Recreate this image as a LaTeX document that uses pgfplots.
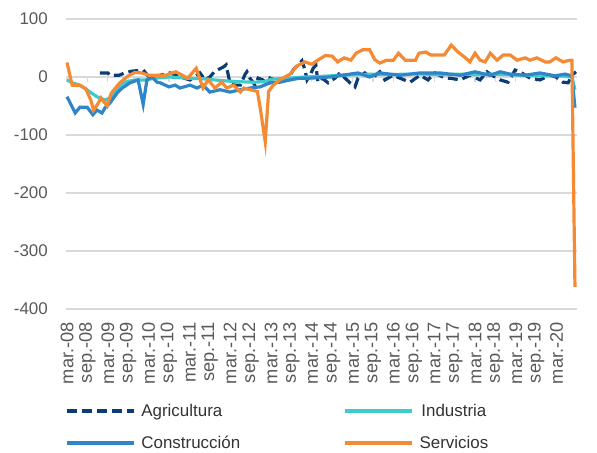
\documentclass[border=0pt]{standalone}
\usepackage{pgfplots}
\pgfplotsset{compat=1.18}
\usepackage{fontspec}
\setmainfont{Liberation Sans}
\definecolor{agri}{HTML}{0B3C74}
\definecolor{ind}{HTML}{3DCBCB}
\definecolor{cons}{HTML}{2E86C9}
\definecolor{serv}{HTML}{F58A35}
\definecolor{gridc}{HTML}{D9D9D9}
\definecolor{tickc}{HTML}{595959}
\definecolor{legc}{HTML}{333333}
\begin{document}
\begin{tikzpicture}
\path[use as bounding box] (-66bp,-144bp) rectangle (531bp,309bp);
\begin{axis}[
  at={(0,0)}, anchor=south west,
  scale only axis, width=511bp, height=290bp,
  xmin=-0.3, xmax=150, ymin=-400, ymax=100,
  axis line style={draw=none},
  ytick={-400,-300,-200,-100,0,100},
  ymajorgrids, grid style={gridc, line width=1.3bp},
  xtick={0,6,...,144},
  xticklabels={mar.-08,sep.-08,mar.-09,sep.-09,mar.-10,sep.-10,mar.-11,sep.-11,mar.-12,sep.-12,mar.-13,sep.-13,mar.-14,sep.-14,mar.-15,sep.-15,mar.-16,sep.-16,mar.-17,sep.-17,mar.-18,sep.-18,mar.-19,sep.-19,mar.-20},
  major tick length=0pt,
  /pgf/number format/assume math mode=true,
  ticklabel style={text=tickc},
  yticklabel style={inner sep=0pt, anchor=east, font=\fontsize{17}{20}\selectfont},
  yticklabel shift=18bp,
  xticklabel style={inner sep=0pt, rotate=90, anchor=east, font=\fontsize{18.3}{21}\selectfont},
  xticklabel shift=13bp,
  legend columns=2,
  legend image code/.code={\draw[#1] (0bp,0bp) -- (67bp,0bp);},
  legend style={at={(0,0)}, anchor=north west, xshift=-4bp, yshift=-91bp,
    draw=none, fill=none, font=\fontsize{17}{20}\selectfont, text=legc,
    row sep=14bp, /tikz/every odd column/.style={column sep=4bp}},
  clip=false,
]
\pgfplotsinvokeforeach{0,6,...,144}{\draw[gridc, line width=1.2bp] (axis cs:#1,0) -- (axis cs:#1,-9);}
\addplot[agri, line width=3.2bp, dash pattern=on 10bp off 5bp] coordinates {
(9.7,7)(12,7)(12.6,3)(15.3,3)(17,7)(19,10)(22.4,12)(24.4,-2)(27.4,3)(30.3,7)(33.2,0)(36.2,-5)(39.1,7)(40.6,-5)(42,0)(43.5,10)(45.9,17)(46.8,21)(47.9,-10)(49.4,-14)(51,-14)(52.4,5)(52.9,9)(53.8,-2)(55.3,-14)(56.2,-2)(57.6,-5)(59.1,-14)(59.7,-2)(61.2,-5)(62.6,-5)(64.1,-2)(65.6,2)(66.5,12)(69.1,28)(70,12)(70.6,-5)(71.5,3)(72.4,15)(73.2,20)(73.8,-9)(75,-2)(76.8,-10)(78.8,-2)(80.3,7)(81.8,-2)(83.2,-10)(84.7,-17)(85.6,-2)(87.6,7)(89.7,-2)(92,9)(93.5,-5)(95.9,3)(97.9,-2)(100.9,-9)(103.8,3)(106.2,-5)(108.2,7)(111.2,-2)(112.6,-2)(115.6,-5)(118.5,3)(121.5,-5)(123.5,9)(125,3)(127.4,-5)(129.7,-9)(131.8,12)(133.2,9)(136.2,-2)(139.1,-5)(142.1,3)(143.8,0)(145.9,-9)(147.4,-10)(148.5,3)(149.7,9)
};
\addlegendentry{\makebox[200bp][l]{Agricultura}}
\addplot[ind, line width=3.2bp] coordinates {
(0,-5)(1.5,-10)(3.8,-14)(6.8,-26)(8.8,-34)(11.2,-40)(12.6,-36)(14.1,-26)(15.6,-14)(17,-9)(20,-5)(23,-5)(26,-2)(30,0)(35,-2)(40,-3)(45,-6)(50,-8)(55,-9)(58,-8)(60,-4)(65,-2)(70,0)(75,1)(80,3)(85,4)(90,5)(95,4)(100,5)(105,5)(110,4)(115,5)(120,4)(125,5)(130,4)(135,3)(140,2)(145,2)(148.5,0)(149.4,-22)
};
\addlegendentry{Industria}
\addplot[cons, line width=3.2bp] coordinates {
(0,-34)(2.4,-62)(3.8,-52)(5.9,-52)(7.6,-65)(8.8,-57)(10.3,-62)(11.2,-53)(12.6,-45)(14.7,-28)(16.2,-19)(18.5,-10)(20.9,-5)(22.4,-47)(23.5,-5)(25,0)(26.5,-9)(27.4,-10)(30,-17)(31.8,-14)(33.2,-19)(36.2,-14)(38.2,-19)(40,-14)(42,-26)(45,-22)(48,-26)(50.9,-22)(53.8,-19)(56.8,-17)(59.7,-10)(62.6,-9)(65.6,-5)(68.5,-2)(71.5,-2)(77.4,0)(85.6,7)(89,0)(92,7)(98,3)(103.8,7)(109.7,7)(115.6,3)(120,9)(124.4,3)(127.4,9)(130.3,5)(134.7,3)(139.1,7)(143.5,2)(146.5,5)(148.5,2)(149.4,-53)
};
\addlegendentry{\makebox[200bp][l]{Construcción}}
\addplot[serv, line width=3.2bp] coordinates {
(0,25)(1.5,-14)(4,-15)(5.5,-20)(7,-40)(7.8,-57)(9,-47)(10,-36)(11.8,-50)(13,-28)(15.5,-10)(18,2)(20,8)(22,7)(24,3)(29,3)(32,9)(35.5,-2)(38,15)(40,-19)(41.5,-5)(43.5,-19)(45.5,-9)(47,-19)(49,-14)(51,-26)(52,-19)(54,-22)(56,-25)(57,-60)(58.3,-112)(59.3,-25)(60.5,-15)(62.6,-5)(65.6,5)(67.6,19)(70,26)(72,22)(74,30)(76,37)(78,36)(79.6,26)(81.5,33)(83.5,29)(85,41)(87,47)(89,47)(90.5,30)(92,24)(94,29)(96,29)(97.5,41)(99.5,29)(102.5,29)(103.5,41)(105.5,43)(107,38)(109,38)(111,38)(113,55)(115,43)(117,34)(118.5,26)(120,41)(121.5,29)(123,26)(124.5,41)(126.5,29)(128.3,38)(130.3,38)(132.4,29)(134.7,33)(136.2,29)(138.2,33)(140.6,26)(142,26)(143.8,33)(145.9,26)(148,29)(148.5,29)(149.4,-362)
};
\addlegendentry{Servicios}
\end{axis}
\end{tikzpicture}
\end{document}
